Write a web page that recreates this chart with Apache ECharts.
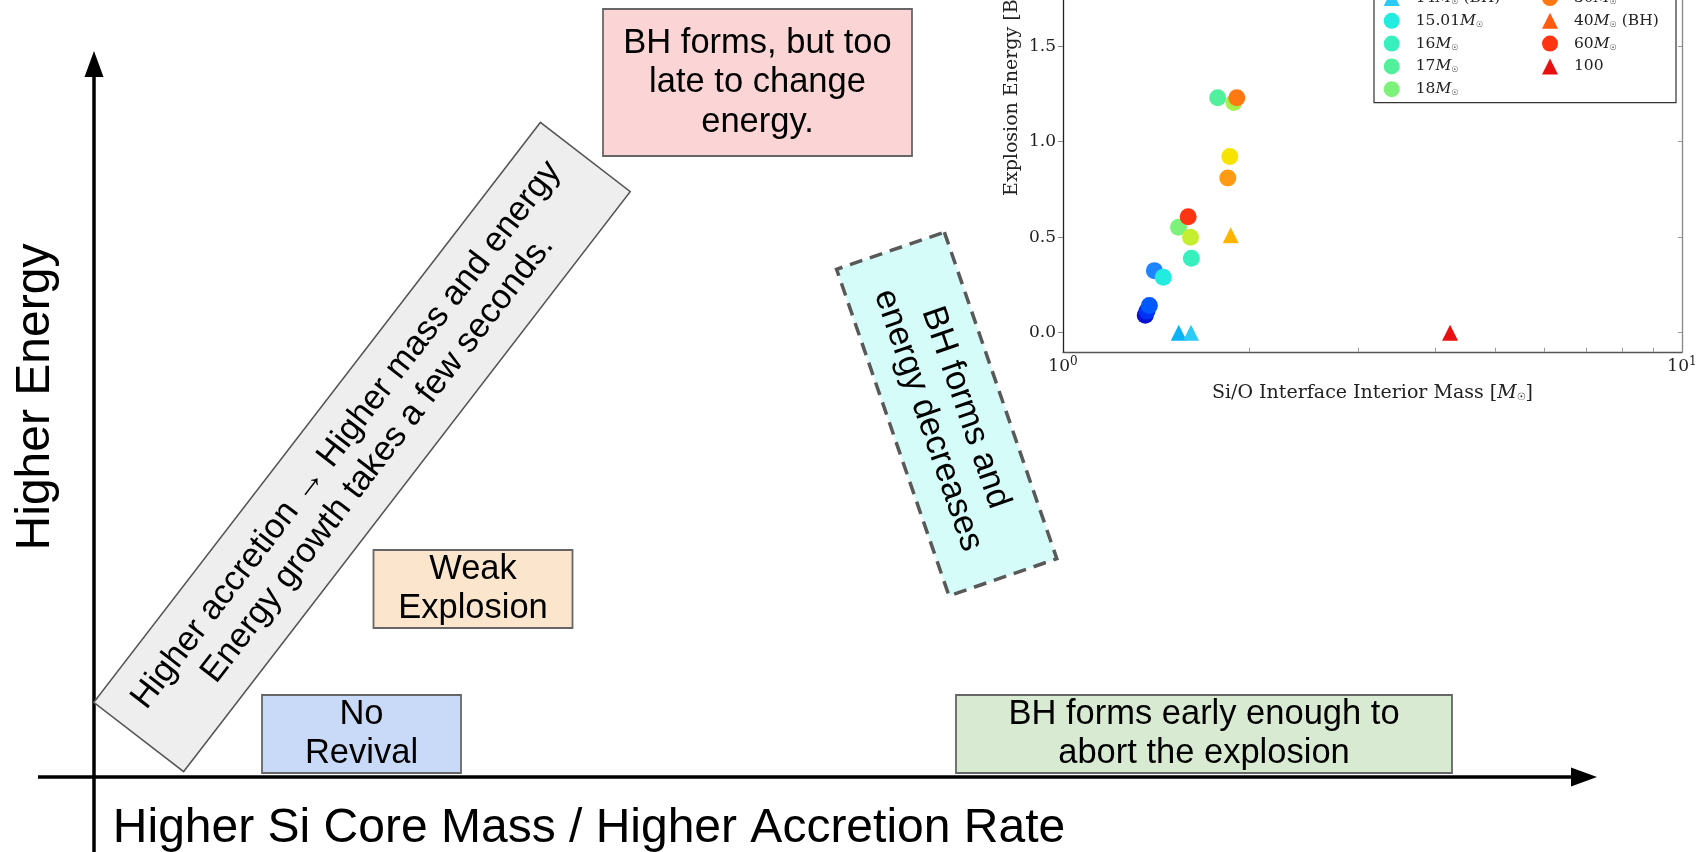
<!DOCTYPE html>
<html><head><meta charset="utf-8">
<script src="https://cdn.jsdelivr.net/npm/echarts@6/dist/echarts.min.js"></script>
<style>html,body{margin:0;padding:0;background:#fff}#c{width:1699px;height:852px}</style>
</head><body><div id="c"></div>
<script>
// ---- inset scatter data ----
const modelNames  = ['12M☉','12.5M☉','13M☉','13.5M☉','13M☉ (BH)','14M☉ (BH)','15.01M☉','16M☉','17M☉','18M☉','19M☉','20M☉','21M☉','25M☉ (BH)','25M☉','30M☉','40M☉ (BH)','60M☉','100'];
const siOMass     = [1.358, 1.367, 1.379, 1.405, 1.538, 1.610, 1.452, 1.612, 1.778, 1.537, 1.888, 1.607, 1.860, 1.866, 1.846, 1.909, null, 1.593, 4.22];
const explEnergy  = [0.091, 0.113, 0.143, 0.325, 0.0,   0.0,   0.290, 0.390, 1.230, 0.552, 1.205, 0.500, 0.923, 0.510, 0.810, 1.230, null, 0.607, 0.0];
const modelMarker = ['circle','circle','circle','circle','triangle','triangle','circle','circle','circle','circle','circle','circle','circle','triangle','circle','circle','triangle','circle','triangle'];
const modelColors = ['#0a12d2','#0032f6','#0058ff','#1f84ff','#0cb2f6','#2ccaf6','#22ecdf','#38f0bd','#52f09c','#7cf27a','#a6f04c','#c6ee30','#f6e400','#ffb400','#ff9a14','#ff7812','#ff5c10','#ff3412','#e81010'];
const legendLeft  = ['14M☉ (BH)','15.01M☉','16M☉','17M☉','18M☉'];
const legendRight = ['30M☉','40M☉ (BH)','60M☉','100'];
const yTicks = [0, 0.5, 1.0, 1.5, 2.0, 2.5];
const xMinorTicks = [2,3,4,5,6,7,8,9];
const xLabels = [1, 10];

// ---- schematic texts ----
const yTitle = 'Higher Energy';
const xTitle = 'Higher Si Core Mass / Higher Accretion Rate';
const txtPink = 'BH forms, but too\nlate to change\nenergy.';
const txtWeak = 'Weak\nExplosion';
const txtNoRev = 'No\nRevival';
const txtGreen = 'BH forms early enough to\nabort the explosion';
const txtGray = 'Higher accretion → Higher mass and energy\nEnergy growth takes a few seconds.';
const txtCyan = 'BH forms and\nenergy decreases';

const SANS = '"Liberation Sans", Arial, sans-serif';
const SERIF = '"DejaVu Serif", serif';
const boxFont = '34.5px ' + SANS;

function txt(x, y, text, font, rot) {
  return {type:'text', x:x, y:y, rotation: rot || 0, z: 10,
    style:{text:text, x:0, y:0, font:font, fill:'#000', lineHeight:39.5,
      align:'center', verticalAlign:'middle', textAlign:'center', textVerticalAlign:'middle'}};
}
function box(x, y, w, h, fill, text) {
  return [
    {type:'rect', z:5, shape:{x:x, y:y, width:w, height:h}, style:{fill:fill, stroke:'#666', lineWidth:1.8}},
    txt(x + w/2, y + h/2, text, boxFont)
  ];
}
const deg = Math.PI/180;

const graphics = [].concat(
  [
    {type:'line', z:5, shape:{x1:94, y1:852, x2:94, y2:72}, style:{stroke:'#000', lineWidth:3.5}},
    {type:'polygon', z:5, shape:{points:[[94,51],[84.5,77],[103.5,77]]}, style:{fill:'#000'}},
    {type:'line', z:5, shape:{x1:38, y1:777, x2:1574, y2:777}, style:{stroke:'#000', lineWidth:3.5}},
    {type:'polygon', z:5, shape:{points:[[1597,777],[1571,767.5],[1571,786.5]]}, style:{fill:'#000'}},
    txt(36, 397, yTitle, '48px ' + SANS, Math.PI/2),
    txt(589, 829, xTitle, '48px ' + SANS)
  ],
  box(603, 9, 309, 147, '#fbd5d5', txtPink),
  box(373.5, 550, 199, 78, '#fce5cd', txtWeak),
  box(262, 695, 199, 78, '#c9daf8', txtNoRev),
  box(956, 695, 496, 78, '#d9ead3', txtGreen),
  [
    {type:'group', x:362, y:447, rotation:52.4*deg, z:5, children:[
      {type:'rect', z:5, shape:{x:-366, y:-56.7, width:732, height:113.4}, style:{fill:'#eeeeee', stroke:'#555', lineWidth:1.5}},
      {type:'text', z:10, style:{text:txtGray, x:0, y:0, font:boxFont, fill:'#000', lineHeight:39.5,
        align:'center', verticalAlign:'middle', textAlign:'center', textVerticalAlign:'middle'}}
    ]},
    {type:'group', x:946.7, y:414, rotation:-71*deg, z:5, children:[
      {type:'rect', z:5, shape:{x:-172.7, y:-57, width:345.4, height:114}, style:{fill:'#d5fcf8', stroke:'#595959', lineWidth:3.5, lineDash:[13,8]}},
      {type:'text', z:10, style:{text:txtCyan, x:0, y:0, font:boxFont, fill:'#000', lineHeight:39.5,
        align:'center', verticalAlign:'middle', textAlign:'center', textVerticalAlign:'middle'}}
    ]},
    {type:'rect', z:0, shape:{x:1374, y:-60, width:302, height:162.7}, style:{fill:'#fff', stroke:'#333', lineWidth:1.2}}
  ]
);

const legRich = {
  i:{fontFamily:SERIF, fontStyle:'italic', fontSize:15.5, lineHeight:16, color:'#222'},
  s:{fontFamily:'"DejaVu Sans", sans-serif', fontSize:8, lineHeight:16, verticalAlign:'bottom', color:'#222'}
};
function legFmt(name){ return name.replace('M☉', '{i|M}{s|☉}'); }
function mkLegend(data, left) {
  return {data:data, orient:'vertical', left:left, top:-10, itemWidth:16, itemHeight:16, itemGap:6.8,
    padding:0, selectedMode:false, formatter:legFmt, symbolKeepAspect:true,
    textStyle:{fontFamily:SERIF, fontSize:15.5, color:'#222', lineHeight:16, padding:[0,0,0,11], rich:legRich}};
}

const series = modelNames.map((n, i) => ({
  type:'scatter', name:n, symbol:modelMarker[i],
  symbolSize: modelMarker[i] === 'triangle' ? 16 : 17,
  itemStyle:{color:modelColors[i], opacity:1},
  emphasis:{disabled:true},
  data: siOMass[i] == null ? [] : [[siOMass[i], explEnergy[i]]]
}));

const chart = echarts.init(document.getElementById('c'), null, {renderer:'canvas'});
chart.setOption({
  animation:false,
  backgroundColor:'#fff',
  grid:{left:1063, right:17, top:-163.9, bottom:500.2, containLabel:false, outerBoundsMode:'none'},
  xAxis:{type:'log', logBase:10, min:1, max:10,
    axisLine:{show:true, onZero:false, lineStyle:{color:'#555', width:1.3}},
    axisTick:{show:true, inside:true, length:4, customValues:xMinorTicks, lineStyle:{color:'#999'}},
    minorTick:{show:false}, splitLine:{show:false},
    axisLabel:{customValues:xLabels, margin:4, color:'#222',
      formatter: v => '{b|10}{p|' + Math.round(Math.log10(v)) + '}',
      rich:{b:{fontFamily:SERIF, fontSize:17, lineHeight:22, color:'#222'}, p:{fontFamily:SERIF, fontSize:12, lineHeight:22, verticalAlign:'top', color:'#222'}}},
    name:'Si/O Interface Interior Mass [{i|M}{s|☉}]', nameLocation:'middle', nameGap:32,
    nameTextStyle:{fontFamily:SERIF, fontSize:19, color:'#222',
      rich:{i:{fontFamily:SERIF, fontStyle:'italic', fontSize:19, color:'#222'}, s:{fontFamily:'"DejaVu Sans"', fontSize:10, verticalAlign:'bottom', color:'#222'}}}
  },
  yAxis:[
    {type:'value', min:-0.1, max:2.6, position:'left',
      axisLine:{show:true, onZero:false, lineStyle:{color:'#222', width:1.3}},
      axisTick:{show:true, inside:false, length:5, customValues:yTicks, lineStyle:{color:'#888'}},
      axisLabel:{customValues:yTicks, formatter: v => Number(v).toFixed(1), margin:7, fontFamily:SERIF, fontSize:17, color:'#222'},
      splitLine:{show:false},
      name:'Explosion Energy [B]', nameLocation:'middle', nameRotate:90, nameGap:41,
      nameTextStyle:{fontFamily:SERIF, fontSize:19, color:'#222'}},
    {type:'value', min:-0.1, max:2.6, position:'right',
      axisLine:{show:true, onZero:false, lineStyle:{color:'#888', width:1.3}},
      axisTick:{show:true, inside:true, length:4, customValues:yTicks, lineStyle:{color:'#999'}},
      axisLabel:{show:false}, splitLine:{show:false}}
  ],
  legend:[mkLegend(legendLeft, 1383.7), mkLegend(legendRight, 1542)],
  series:series,
  graphic:{elements:graphics}
});
</script></body></html>
